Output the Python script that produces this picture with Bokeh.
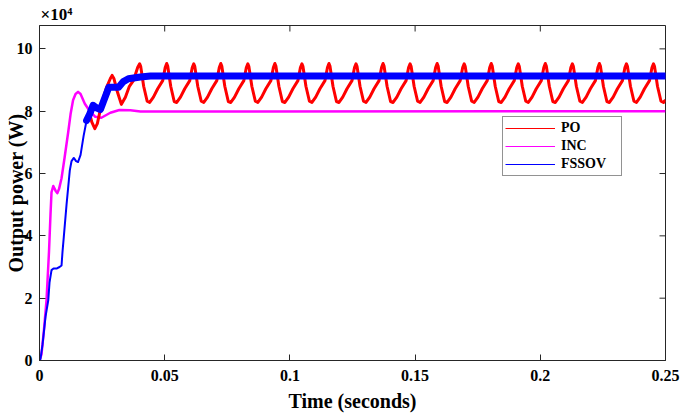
from math import pi
from bokeh.plotting import figure
from bokeh.models import Range1d, FixedTicker, Legend, LegendItem
from bokeh.embed import file_html
from bokeh.resources import INLINE

# ---------------- data (time in s, output power in units of 10^4 W) ----------------
inc_t = [0.0, 0.0008, 0.0018, 0.0028, 0.0038, 0.0044, 0.0048, 0.0055, 0.0064, 0.0071,
         0.0078, 0.0088, 0.0100, 0.0115, 0.0124, 0.0134, 0.0144, 0.0154, 0.0164, 0.0181,
         0.0201, 0.0223, 0.0247, 0.0283, 0.0319, 0.0363, 0.0403, 0.2500]
inc_p = [0.0, 0.2, 1.0, 1.93, 3.5, 4.7, 5.4, 5.6, 5.45, 5.37,
         5.5, 5.85, 6.5, 7.35, 7.9, 8.35, 8.55, 8.62, 8.55, 8.24,
         8.0, 7.82, 7.79, 7.95, 8.04, 8.03, 7.99, 8.0]

fssov_t = [0.0, 0.0004, 0.0012, 0.0024, 0.0035, 0.0040, 0.0048, 0.0056, 0.0068, 0.0080,
           0.0088, 0.0092, 0.0097, 0.0108, 0.0121, 0.0128, 0.0137, 0.0146, 0.0154, 0.0164,
           0.0176, 0.0188, 0.0201, 0.0214, 0.0227, 0.0243, 0.0255, 0.0277, 0.0295, 0.0316,
           0.0335, 0.0355, 0.0403, 0.0443, 0.2500]
fssov_p = [0.0, 0.05, 0.5, 1.4, 1.93, 2.5, 2.9, 2.95, 2.95, 3.0,
           3.05, 3.5, 3.96, 5.0, 6.1, 6.4, 6.5, 6.4, 6.37, 6.6,
           7.2, 7.7, 7.92, 8.19, 8.11, 8.05, 8.3, 8.77, 8.77, 8.77,
           8.95, 9.04, 9.1, 9.13, 9.13]

# PO: (time, power) pairs, one oscillation per row
po_points = [
    (0.0188, 7.70), (0.0201, 7.90), (0.0209, 7.65), (0.0221, 7.44), (0.0231, 7.60), (0.0247, 8.20),
    (0.0267, 8.75), (0.0283, 9.05), (0.0290, 9.15), (0.0297, 9.05), (0.0310, 8.65), (0.0327, 8.22),
    (0.0343, 8.45), (0.0359, 8.80), (0.0375, 8.98), (0.0392, 9.40),
    (0.0400, 9.52), (0.0404, 9.44), (0.0409, 9.18), (0.0416, 8.80), (0.0430, 8.32), (0.0440, 8.28), (0.0455, 8.45), (0.0472, 8.72), (0.0492, 8.98), (0.0502, 9.40),
    (0.0508, 9.53), (0.0512, 9.45), (0.0517, 9.18), (0.0524, 8.80), (0.0538, 8.31), (0.0548, 8.28), (0.0563, 8.45), (0.0580, 8.72), (0.0600, 8.98), (0.0610, 9.40),
    (0.0616, 9.52), (0.0620, 9.44), (0.0625, 9.18), (0.0632, 8.80), (0.0646, 8.32), (0.0656, 8.28), (0.0671, 8.45), (0.0688, 8.72), (0.0708, 8.98), (0.0718, 9.40),
    (0.0724, 9.53), (0.0728, 9.45), (0.0733, 9.18), (0.0740, 8.80), (0.0754, 8.31), (0.0764, 8.28), (0.0779, 8.45), (0.0796, 8.72), (0.0816, 8.98), (0.0826, 9.40),
    (0.0832, 9.52), (0.0836, 9.44), (0.0841, 9.18), (0.0848, 8.80), (0.0862, 8.32), (0.0872, 8.28), (0.0887, 8.45), (0.0904, 8.72), (0.0924, 8.98), (0.0934, 9.40),
    (0.0940, 9.53), (0.0944, 9.45), (0.0949, 9.18), (0.0956, 8.80), (0.0970, 8.31), (0.0980, 8.28), (0.0995, 8.45), (0.1012, 8.72), (0.1032, 8.98), (0.1042, 9.40),
    (0.1048, 9.52), (0.1052, 9.44), (0.1057, 9.18), (0.1064, 8.80), (0.1078, 8.32), (0.1088, 8.28), (0.1103, 8.45), (0.1120, 8.72), (0.1140, 8.98), (0.1150, 9.40),
    (0.1156, 9.53), (0.1160, 9.45), (0.1165, 9.18), (0.1172, 8.80), (0.1186, 8.31), (0.1196, 8.28), (0.1211, 8.45), (0.1228, 8.72), (0.1248, 8.98), (0.1258, 9.40),
    (0.1264, 9.52), (0.1268, 9.44), (0.1273, 9.18), (0.1280, 8.80), (0.1294, 8.32), (0.1304, 8.28), (0.1319, 8.45), (0.1336, 8.72), (0.1356, 8.98), (0.1366, 9.40),
    (0.1372, 9.53), (0.1376, 9.45), (0.1381, 9.18), (0.1388, 8.80), (0.1402, 8.31), (0.1412, 8.28), (0.1427, 8.45), (0.1444, 8.72), (0.1464, 8.98), (0.1474, 9.40),
    (0.1480, 9.52), (0.1484, 9.44), (0.1489, 9.18), (0.1496, 8.80), (0.1510, 8.32), (0.1520, 8.28), (0.1535, 8.45), (0.1552, 8.72), (0.1572, 8.98), (0.1582, 9.40),
    (0.1588, 9.53), (0.1592, 9.45), (0.1597, 9.18), (0.1604, 8.80), (0.1618, 8.31), (0.1628, 8.28), (0.1643, 8.45), (0.1660, 8.72), (0.1680, 8.98), (0.1690, 9.40),
    (0.1696, 9.52), (0.1700, 9.44), (0.1705, 9.18), (0.1712, 8.80), (0.1726, 8.32), (0.1736, 8.28), (0.1751, 8.45), (0.1768, 8.72), (0.1788, 8.98), (0.1798, 9.40),
    (0.1804, 9.53), (0.1808, 9.45), (0.1813, 9.18), (0.1820, 8.80), (0.1834, 8.31), (0.1844, 8.28), (0.1859, 8.45), (0.1876, 8.72), (0.1896, 8.98), (0.1906, 9.40),
    (0.1912, 9.52), (0.1916, 9.44), (0.1921, 9.18), (0.1928, 8.80), (0.1942, 8.32), (0.1952, 8.28), (0.1967, 8.45), (0.1984, 8.72), (0.2004, 8.98), (0.2014, 9.40),
    (0.2020, 9.53), (0.2024, 9.45), (0.2029, 9.18), (0.2036, 8.80), (0.2050, 8.31), (0.2060, 8.28), (0.2075, 8.45), (0.2092, 8.72), (0.2112, 8.98), (0.2122, 9.40),
    (0.2128, 9.52), (0.2132, 9.44), (0.2137, 9.18), (0.2144, 8.80), (0.2158, 8.32), (0.2168, 8.28), (0.2183, 8.45), (0.2200, 8.72), (0.2220, 8.98), (0.2230, 9.40),
    (0.2236, 9.53), (0.2240, 9.45), (0.2245, 9.18), (0.2252, 8.80), (0.2266, 8.31), (0.2276, 8.28), (0.2291, 8.45), (0.2308, 8.72), (0.2328, 8.98), (0.2338, 9.40),
    (0.2344, 9.52), (0.2348, 9.44), (0.2353, 9.18), (0.2360, 8.80), (0.2374, 8.32), (0.2384, 8.28), (0.2399, 8.45), (0.2416, 8.72), (0.2436, 8.98), (0.2446, 9.40),
    (0.2452, 9.52), (0.2456, 9.44), (0.2461, 9.18), (0.2468, 8.80), (0.2482, 8.32), (0.2492, 8.28), (0.2500, 8.36),
]
po_t = [t for t, _ in po_points]
po_p = [v for _, v in po_points]

x_min, x_max = 0.0, 0.25
y_min, y_max = 0.0, 10.75
x_ticks = [0, 0.05, 0.1, 0.15, 0.2, 0.25]
x_tick_labels = ["0", "0.05", "0.1", "0.15", "0.2", "0.25"]
y_ticks = [0, 2, 4, 6, 8, 10]
y_tick_labels = ["0", "2", "4", "6", "8", "10"]
series_names = ["PO", "INC", "FSSOV"]
series_colors = ["#FF0000", "#FF00FF", "#0000FF"]

FONT = "Liberation Serif"
AX = "#262626"

p = figure(width=685, height=418, output_backend="svg", toolbar_location=None,
           x_range=Range1d(x_min, x_max), y_range=Range1d(y_min, y_max),
           min_border_left=39, min_border_right=20, min_border_top=25, min_border_bottom=58)
p.xgrid.visible = False
p.ygrid.visible = False
p.outline_line_color = AX
p.outline_line_width = 1
p.background_fill_color = "white"
p.border_fill_color = "white"

xax = p.below[0]
yax = p.left[0]
for ax in (xax, yax):
    ax.axis_line_color = AX
    ax.major_tick_line_color = AX
    ax.major_tick_in = 6
    ax.major_tick_out = 0
    ax.minor_tick_line_color = None
    ax.major_label_text_font = FONT
    ax.major_label_text_font_style = "bold"
    ax.major_label_text_font_size = "16px"
    ax.major_label_text_color = "black"
    ax.axis_label_text_font = FONT
    ax.axis_label_text_font_style = "bold"
    ax.axis_label_text_font_size = "20px"
    ax.axis_label_text_color = "black"

xax.ticker = FixedTicker(ticks=x_ticks)
yax.ticker = FixedTicker(ticks=y_ticks)
xax.major_label_overrides = dict(zip(x_ticks, x_tick_labels))
yax.major_label_overrides = dict(zip(y_ticks, y_tick_labels))
xax.major_label_standoff = 9
yax.major_label_standoff = 7
xax.axis_label = "Time (seconds)"
xax.axis_label_standoff = 6
yax.axis_label = "Output power (W)"
yax.axis_label_standoff = -13

# inward ticks on the top and right edges of the box
p.ray(x=x_ticks, y=[y_max] * len(x_ticks), length=6, length_units="screen",
      angle=-pi / 2, line_color=AX, line_width=1)
p.ray(x=[x_max] * len(y_ticks), y=y_ticks, length=6, length_units="screen",
      angle=pi, line_color=AX, line_width=1)

# exponent marker
p.title.text = "\u00d710\u2074"
p.title.align = "left"
p.title.offset = 1
p.title.standoff = 3
p.title.text_font = FONT
p.title.text_font_style = "bold"
p.title.text_font_size = "17px"
p.title.text_color = "black"

# curves
p.line(inc_t, inc_p, color=series_colors[1], line_width=2.5, line_join="round")
p.line(po_t, po_p, color=series_colors[0], line_width=3, line_join="round")
p.line(fssov_t[:23], fssov_p[:23], color=series_colors[2], line_width=2, line_join="round")
p.line(fssov_t[21:], fssov_p[21:], color=series_colors[2], line_width=7,
       line_join="round", line_cap="round")

# legend with thin sample lines (hidden helper renderers)
legend_renderers = [p.line(t, v, color=c, line_width=1, visible=False)
                    for t, v, c in ((po_t, po_p, series_colors[0]),
                                    (inc_t, inc_p, series_colors[1]),
                                    (fssov_t, fssov_p, series_colors[2]))]
legend = Legend(items=[LegendItem(label=n, renderers=[r]) for n, r in zip(series_names, legend_renderers)],
                location=(463, 184), padding=2, spacing=0, margin=0,
                glyph_width=50, glyph_height=18, label_height=18, label_width=58, label_standoff=6,
                label_text_font=FONT, label_text_font_style="bold", label_text_font_size="14px",
                label_text_color="black", border_line_color=AX, border_line_width=1,
                background_fill_color="white", background_fill_alpha=1.0,
                inactive_fill_alpha=0.0)
p.add_layout(legend)

open("out.html", "w").write(file_html(p, INLINE))
